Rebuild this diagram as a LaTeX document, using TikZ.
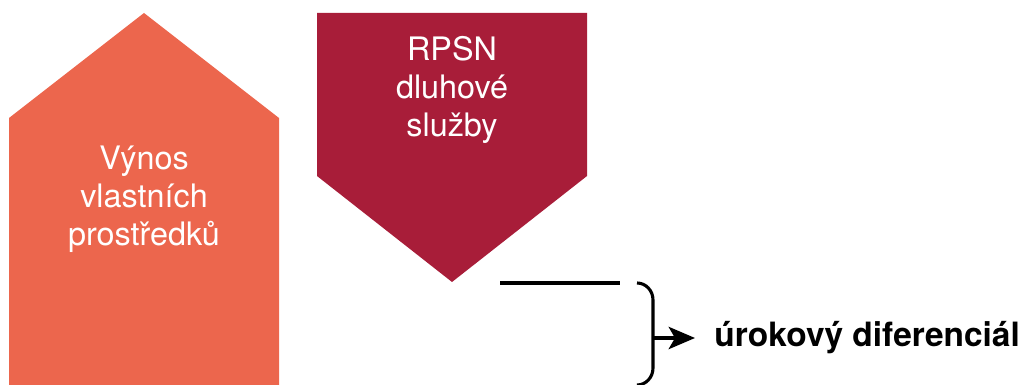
\documentclass[tikz,border=0pt]{standalone}
\usepackage{fontspec}
\setmainfont{TeX Gyre Heros}
\usetikzlibrary{arrows.meta}

\definecolor{vynoscol}{RGB}{236,102,77}
\definecolor{rpsncol}{RGB}{168,29,57}

\tikzset{
    blocktext/.style={text=white,align=center,font=\fontsize{23}{27}\selectfont},
    blackline/.style={line width=2.2pt,black}
}

\begin{document}
\begin{tikzpicture}[x=0.025cm,y=-0.025cm]

    \useasboundingbox (0,0) rectangle (1023,385);

    % return on equity (house shape)
    \coordinate (vBL) at (9,385);
    \coordinate (vBR) at (279,385);
    \coordinate (vSR) at (279,118);
    \coordinate (vTop) at (144,13);
    \coordinate (vSL) at (9,118);
    \fill[vynoscol] (vBL)--(vBR)--(vSR)--(vTop)--(vSL)--cycle;
    \node[blocktext] (vynos) at (144,199) {Výnos\\vlastních\\prostředků};

    % cost of debt (arrow down)
    \coordinate (rTL) at (317,13);
    \coordinate (rTR) at (587,13);
    \coordinate (rSR) at (587,176);
    \coordinate (rTip) at (452,282);
    \coordinate (rSL) at (317,176);
    \fill[rpsncol] (rTL)--(rTR)--(rSR)--(rTip)--(rSL)--cycle;
    \node[blocktext] (rpsn) at (452,90) {RPSN\\dluhové\\služby};

    % level line
    \coordinate (lineA) at (500,283);
    \coordinate (lineB) at (620,283);
    \draw[blackline] (lineA) -- (lineB);

    % brace
    \coordinate (brTop) at (637,283);
    \coordinate (brMid) at (653,338);
    \coordinate (brBot) at (637,385);
    \draw[blackline] (brTop) to[out=0,in=90] (653,300) -- (653,368) to[out=-90,in=0] (brBot);

    % spread
    \node[anchor=west,inner sep=0pt,inner xsep=0.48cm,font=\fontsize{23.8}{27}\selectfont\bfseries] (difer) at (695,338) {úrokový diferenciál};
    \draw[blackline,-{Stealth[length=0.66cm,width=0.56cm,inset=0.16cm]}] (brMid) -- (difer.west);

\end{tikzpicture}
\end{document}
